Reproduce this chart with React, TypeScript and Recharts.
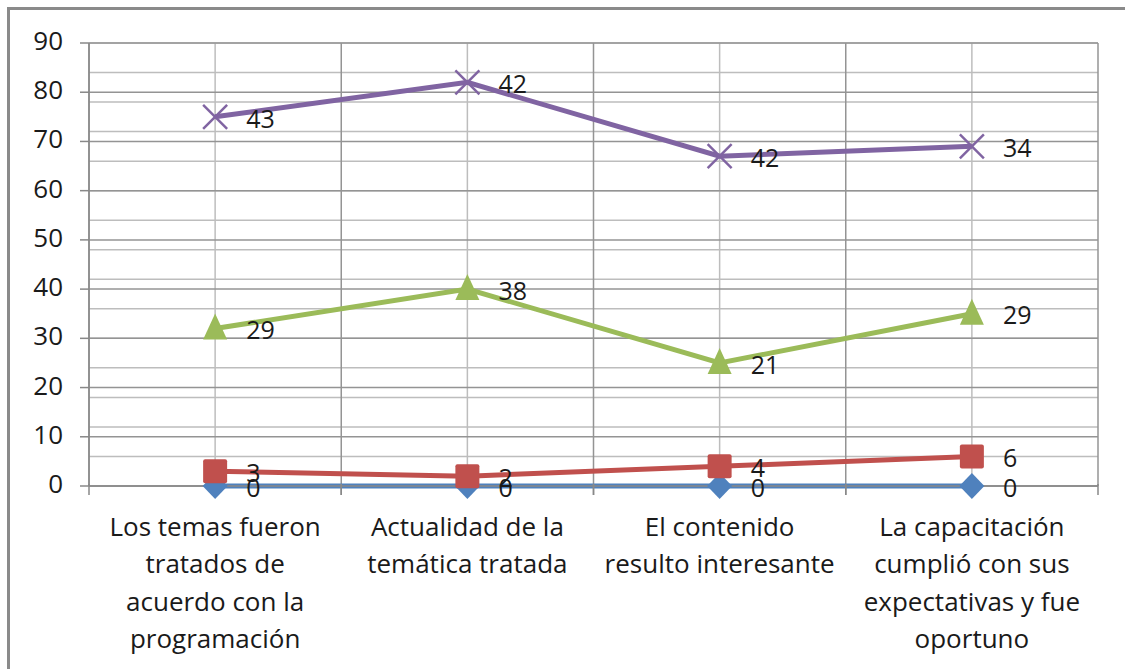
import React from "react";
import {
  ComposedChart,
  Area,
  XAxis,
  YAxis,
  CartesianGrid,
  LabelList,
} from "recharts";

const categories = [
  "Los temas fueron\ntratados de\nacuerdo con la\nprogramación",
  "Actualidad de la\ntemática tratada",
  "El contenido\nresulto interesante",
  "La capacitación\ncumplió con sus\nexpectativas y fue\noportuno",
];
const blueValues = [0, 0, 0, 0];
const redValues = [3, 2, 4, 6];
const greenValues = [29, 38, 21, 29];
const purpleValues = [43, 42, 42, 34];
const yTicks = [0, 10, 20, 30, 40, 50, 60, 70, 80, 90];
const yMinorTicks = Array.from({ length: 46 }, (_, i) => i * 2);

const data = categories.map((c, i) => ({
  cat: c,
  blue: blueValues[i],
  red: redValues[i],
  green: greenValues[i],
  purple: purpleValues[i],
}));

const W = 1125;
const H = 669;
const MARGIN = { top: 43, right: 27, bottom: 23, left: 29 };
const Y_AXIS_W = 60;
const X_AXIS_H = 160;
const PLOT_LEFT = MARGIN.left + Y_AXIS_W;
const PLOT_W = W - PLOT_LEFT - MARGIN.right;
const BAND = PLOT_W / categories.length;

const FONT = "'Open Sans', 'Liberation Sans', sans-serif";
const BLUE = "#4F81BD";
const RED = "#C0504D";
const GREEN = "#9BBB59";
const PURPLE = "#8064A2";

const Diamond = (p: any) => {
  const { cx, cy } = p;
  if (cx == null || cy == null) return null;
  return (
    <path
      d={`M${cx},${cy - 13} L${cx + 12.5},${cy} L${cx},${cy + 13} L${cx - 12.5},${cy} Z`}
      fill={BLUE}
    />
  );
};
const Square = (p: any) => {
  const { cx, cy } = p;
  if (cx == null || cy == null) return null;
  return <rect x={cx - 12} y={cy - 12} width={24} height={24} rx={2} fill={RED} />;
};
const Triangle = (p: any) => {
  const { cx, cy } = p;
  if (cx == null || cy == null) return null;
  return (
    <path
      d={`M${cx},${cy - 15} L${cx + 12},${cy + 11} L${cx - 12},${cy + 11} Z`}
      fill={GREEN}
    />
  );
};
const Cross = (p: any) => {
  const { cx, cy } = p;
  if (cx == null || cy == null) return null;
  const s = 12;
  return (
    <g stroke={PURPLE} strokeWidth={2.5}>
      <line x1={cx - s} y1={cy - s} x2={cx + s} y2={cy + s} />
      <line x1={cx - s} y1={cy + s} x2={cx + s} y2={cy - s} />
    </g>
  );
};

const DataLabel = (p: any) => {
  const { x, y, value } = p;
  return (
    <text
      x={x + 31}
      y={y + 4}
      dominantBaseline="middle"
      fontFamily={FONT}
      fontSize={25}
      fill="#1a1a1a"
    >
      {value}
    </text>
  );
};

const XTick = (p: any) => {
  const { x, y, payload } = p;
  const lines = String(payload.value).split("\n");
  return (
    <g>
      <line x1={x - BAND / 2} y1={y - 10} x2={x - BAND / 2} y2={y + 1} stroke="#888" strokeWidth={1.5} />
      <line x1={x + BAND / 2} y1={y - 10} x2={x + BAND / 2} y2={y + 1} stroke="#888" strokeWidth={1.5} />
      {lines.map((l, i) => (
        <text
          key={i}
          x={x}
          y={y + 35 + i * 37.5}
          textAnchor="middle"
          dominantBaseline="middle"
          fontFamily={FONT}
          fontSize={26}
          fill="#1a1a1a"
        >
          {l}
        </text>
      ))}
    </g>
  );
};

const YTick = (p: any) => {
  const { x, y, payload } = p;
  return (
    <text
      x={x}
      y={y}
      textAnchor="end"
      dominantBaseline="middle"
      fontFamily={FONT}
      fontSize={26}
      fill="#1a1a1a"
    >
      {payload.value}
    </text>
  );
};

export default function App() {
  return (
    <div
      style={{
        position: "absolute",
        left: 0,
        top: 0,
        width: W,
        height: H,
        background: "#fff",
        overflow: "hidden",
      }}
    >
      <div
        style={{
          position: "absolute",
          left: 7,
          top: 7,
          width: W,
          height: H,
          borderTop: "3px solid #8a8a8a",
          borderLeft: "3px solid #8a8a8a",
        }}
      />
      <div style={{ position: "absolute", left: 0, top: 0 }}>
        <ComposedChart width={W} height={H} data={data} margin={MARGIN}>
          <CartesianGrid
            horizontalValues={yMinorTicks}
            stroke="#bdbdbd"
            strokeWidth={1.5}
            verticalCoordinatesGenerator={({ offset }: any) =>
              categories.map((_, i) => offset.left + (i + 0.5) * (offset.width / categories.length))
            }
          />
          <CartesianGrid
            horizontalValues={yTicks}
            stroke="#949494"
            strokeWidth={1.5}
            verticalCoordinatesGenerator={({ offset }: any) =>
              Array.from({ length: categories.length + 1 }, (_, i) => offset.left + i * (offset.width / categories.length))
            }
          />
          <XAxis
            dataKey="cat"
            scale="band"
            height={X_AXIS_H}
            interval={0}
            tick={<XTick />}
            tickLine={false}
            axisLine={{ stroke: "#888", strokeWidth: 1.5 }}
          />
          <YAxis
            domain={[0, 90]}
            ticks={yTicks}
            width={Y_AXIS_W}
            tick={<YTick />}
            tickSize={9}
            tickMargin={17}
            tickLine={{ stroke: "#888", strokeWidth: 1.5 }}
            axisLine={{ stroke: "#888", strokeWidth: 1.5 }}
          />
          <Area
            type="linear"
            dataKey="blue"
            stackId="s"
            stroke={BLUE}
            strokeWidth={5}
            fill="none"
            dot={<Diamond />}
            activeDot={false}
            isAnimationActive={false}
          >
            <LabelList dataKey="blue" content={<DataLabel />} />
          </Area>
          <Area
            type="linear"
            dataKey="red"
            stackId="s"
            stroke={RED}
            strokeWidth={5}
            fill="none"
            dot={<Square />}
            activeDot={false}
            isAnimationActive={false}
          >
            <LabelList dataKey="red" content={<DataLabel />} />
          </Area>
          <Area
            type="linear"
            dataKey="green"
            stackId="s"
            stroke={GREEN}
            strokeWidth={5}
            fill="none"
            dot={<Triangle />}
            activeDot={false}
            isAnimationActive={false}
          >
            <LabelList dataKey="green" content={<DataLabel />} />
          </Area>
          <Area
            type="linear"
            dataKey="purple"
            stackId="s"
            stroke={PURPLE}
            strokeWidth={5}
            fill="none"
            dot={<Cross />}
            activeDot={false}
            isAnimationActive={false}
          >
            <LabelList dataKey="purple" content={<DataLabel />} />
          </Area>
        </ComposedChart>
      </div>
    </div>
  );
}
